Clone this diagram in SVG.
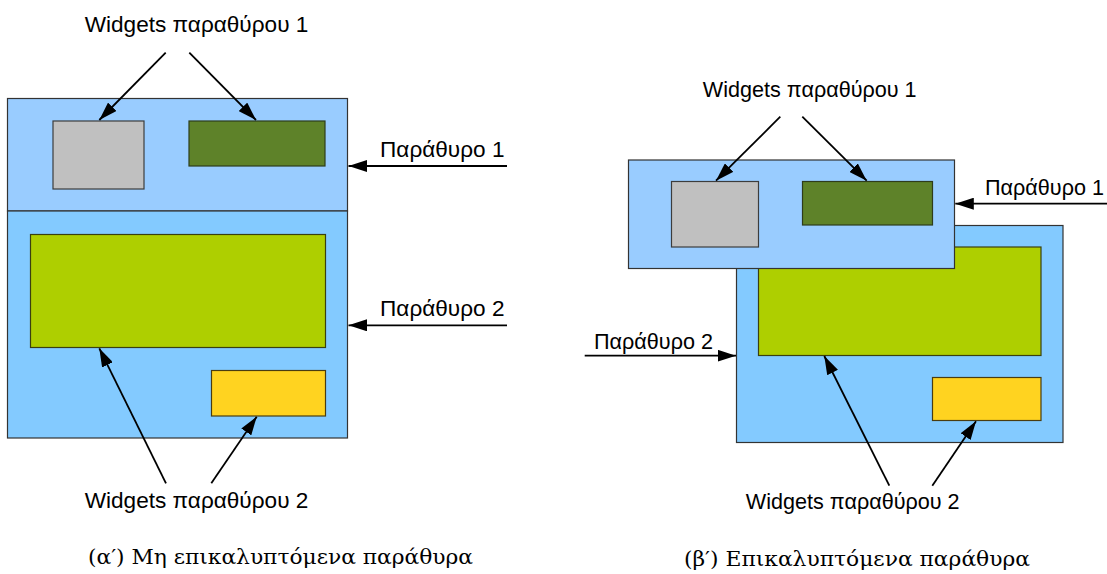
<svg xmlns="http://www.w3.org/2000/svg" width="1107" height="574" viewBox="0 0 1107 574">
<style>
.w1{fill:#99ccff;stroke:#333;stroke-width:1.2}
.w2{fill:#83caff;stroke:#333;stroke-width:1.2}
.gray{fill:#c0c0c0;stroke:#3c3c3c;stroke-width:1.2}
.dg{fill:#5e8229;stroke:#2e3c1c;stroke-width:1.2}
.lg{fill:#aecf00;stroke:#3a4010;stroke-width:1.2}
.yl{fill:#ffd320;stroke:#4a3c10;stroke-width:1.2}
.c{fill:none;stroke:#000;stroke-width:1.8;marker-end:url(#ah)}
.lbl{font-family:"Liberation Sans",Arial,sans-serif;fill:#000}
.cap{font-family:"DejaVu Serif","Liberation Serif",serif;font-size:20px;fill:#000}
</style>
<defs>
<marker id="ah" markerUnits="userSpaceOnUse" markerWidth="19" markerHeight="12" refX="18.5" refY="6" orient="auto">
<path d="M0,0 L18.5,6 L0,12 z" fill="#000"/>
</marker>
</defs>

<!-- Left panel -->
<g id="left-window1">
<rect class="w1" x="7.5" y="98.5" width="340" height="112.5"/>
</g>
<g id="left-window2">
<rect class="w2" x="7.5" y="211" width="340" height="227"/>
</g>
<g id="left-gray-widget"><rect class="gray" x="53" y="121" width="91" height="68"/></g>
<g id="left-darkgreen-widget"><rect class="dg" x="189" y="121" width="136" height="45"/></g>
<g id="left-lightgreen-widget"><rect class="lg" x="30.5" y="234.5" width="295" height="113"/></g>
<g id="left-yellow-widget"><rect class="yl" x="211.5" y="370.5" width="114" height="45.5"/></g>

<!-- Right panel -->
<g id="right-window2">
<rect class="w2" x="736.5" y="225.5" width="326.5" height="217"/>
</g>
<g id="right-lightgreen-widget"><rect class="lg" x="758.5" y="247" width="282.5" height="108.5"/></g>
<g id="right-yellow-widget"><rect class="yl" x="932.5" y="377.5" width="108.5" height="43"/></g>
<g id="right-window1">
<rect class="w1" x="628.5" y="160" width="326" height="108.5"/>
</g>
<g id="right-gray-widget"><rect class="gray" x="671.5" y="181.5" width="87" height="65.5"/></g>
<g id="right-darkgreen-widget"><rect class="dg" x="802.5" y="181.5" width="130" height="43.5"/></g>

<g id="connectors">
<line class="c" x1="165.7" y1="52.7" x2="99.3" y2="120"/>
<line class="c" x1="189.3" y1="52.7" x2="256" y2="120"/>
<line class="c" x1="507" y1="166" x2="348.5" y2="166"/>
<line class="c" x1="507" y1="325.3" x2="348.5" y2="325.3"/>
<line class="c" x1="166" y1="483.3" x2="99.3" y2="348.3"/>
<line class="c" x1="211.3" y1="483.3" x2="256.7" y2="416.7"/>

<line class="c" x1="780.3" y1="116.7" x2="716" y2="180.7"/>
<line class="c" x1="802.3" y1="116.7" x2="866.7" y2="180.7"/>
<line class="c" x1="1107" y1="203.7" x2="955.3" y2="203.7"/>
<line class="c" x1="584.7" y1="355.7" x2="736" y2="355.7"/>
<line class="c" x1="889.3" y1="485.7" x2="824.3" y2="356"/>
<line class="c" x1="932.3" y1="485.7" x2="976" y2="421.3"/>
</g>

<g id="labels">
<text class="lbl" x="196.5" y="32.3" font-size="22.6" text-anchor="middle">Widgets παραθύρου 1</text>
<text class="lbl" x="380" y="157" font-size="22.6">Παράθυρο 1</text>
<text class="lbl" x="380" y="316" font-size="22.6">Παράθυρο 2</text>
<text class="lbl" x="196.5" y="508.3" font-size="22.6" text-anchor="middle">Widgets παραθύρου 2</text>

<text class="lbl" x="809.7" y="97.3" font-size="21.6" text-anchor="middle">Widgets παραθύρου 1</text>
<text class="lbl" x="985" y="195" font-size="21.6">Παράθυρο 1</text>
<text class="lbl" x="594" y="349" font-size="21.6">Παράθυρο 2</text>
<text class="lbl" x="852.7" y="509.3" font-size="21.6" text-anchor="middle">Widgets παραθύρου 2</text>
</g>

<g id="captions">
<text class="cap" x="88" y="564" textLength="385" lengthAdjust="spacingAndGlyphs">(α′)  Μη επικαλυπτόμενα παράθυρα</text>
<text class="cap" x="684" y="566" textLength="346" lengthAdjust="spacingAndGlyphs">(β′)  Επικαλυπτόμενα παράθυρα</text>
</g>
</svg>
